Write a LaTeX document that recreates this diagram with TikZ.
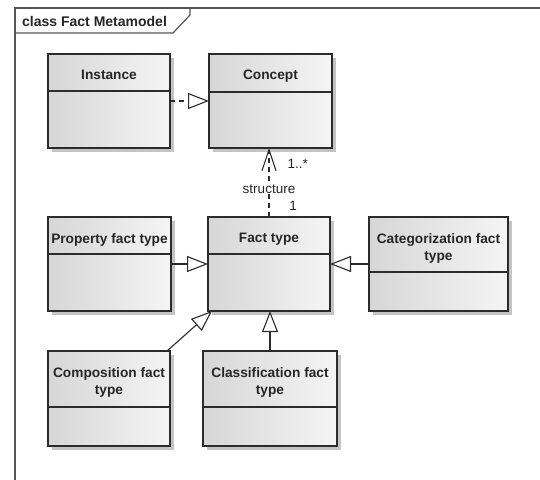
\documentclass[tikz,border=0pt]{standalone}
\usepackage{fontspec}
\setmainfont{Liberation Sans}
\usetikzlibrary{arrows.meta,calc}
\definecolor{boxline}{HTML}{2B2B2B}
\definecolor{frameline}{HTML}{555555}
\definecolor{shadowgray}{HTML}{C4C4C4}
\newcommand{\umlclass}[7]{%
  \fill[shadowgray] ({#2+4},{#3+4}) rectangle ({#4+4},{#5+4});
  \node[classbox, minimum width={#4-#2}, minimum height={#5-#3}, anchor=north west] (#1) at (#2,#3) {};
  \draw[classline] (#2,#6) -- (#4,#6);
  \node[classname] (#1-name) at ({(#2+#4)/2},{#3+16.2}) {#7};
}
\begin{document}
\begin{tikzpicture}[x=1pt,y=-1pt,
  classbox/.style={draw=boxline, line width=1.2pt, left color=black!16, right color=black!4,
    inner sep=0pt, outer sep=0pt},
  classline/.style={draw=boxline, line width=1.2pt},
  classname/.style={font=\bfseries\fontsize{13.7}{17.5}\selectfont, text=black!85, align=center, anchor=north, inner sep=0pt},
  conn/.style={draw=boxline, line width=1.1pt},
  gen/.style={conn, -{Triangle[length=21pt,width=16pt,fill=white]}},
  real/.style={gen, dash pattern=on 5pt off 4pt},
  dep/.style={conn, dash pattern=on 5pt off 4pt, -{Straight Barb[length=21pt,width=14pt]}},
  lbl/.style={font=\fontsize{13.5}{16}\selectfont, text=black!85, inner sep=1pt},
]
\useasboundingbox (0,0) rectangle (540,479);
\fill[white] (0,0) rectangle (540,479);
% frame
\draw[frameline, line width=1.5pt] (15,481) -- (15,8) -- (542,8);
\draw[frameline, line width=1.2pt] (15,33) -- (173,33) -- (190,15) -- (190,8);
\node[font=\bfseries\fontsize{14}{16}\selectfont, anchor=base west, inner sep=0pt, text=black!85] (title) at (22,26) {class Fact Metamodel};
% classes
\umlclass{inst}{48}{54}{170}{148}{91}{Instance}
\umlclass{concept}{209}{54}{332}{148}{92}{Concept}
\umlclass{prop}{48}{217}{171}{311}{254}{Property fact type}
\umlclass{fact}{208}{217}{330}{311}{254}{Fact type}
\umlclass{categ}{369}{217}{508}{311}{272}{Categorization fact\\type}
\umlclass{comp}{48}{351}{170}{446}{407}{Composition fact\\type}
\umlclass{classif}{203}{351}{337}{446}{407}{Classification fact\\type}
% connectors
\draw[real] (inst) -- (concept);
\draw[gen] (prop) -- (fact);
\draw[gen] (categ) -- (fact);
\draw[gen] (classif) -- (classif |- fact.south);
\draw[gen] ($(comp.north east)+(-3,0)$) -- ($(fact.south west)+(4,0)$);
\draw[dep] (fact.north) -- (fact.north |- concept.south)
  node[lbl, pos=0.41, fill=white] (structlbl) {structure}
  node[lbl, pos=0.77, anchor=west, xshift=17pt] (multconcept) {1..*}
  node[lbl, pos=0.16, xshift=24pt] (multfact) {1};
\end{tikzpicture}
\end{document}
